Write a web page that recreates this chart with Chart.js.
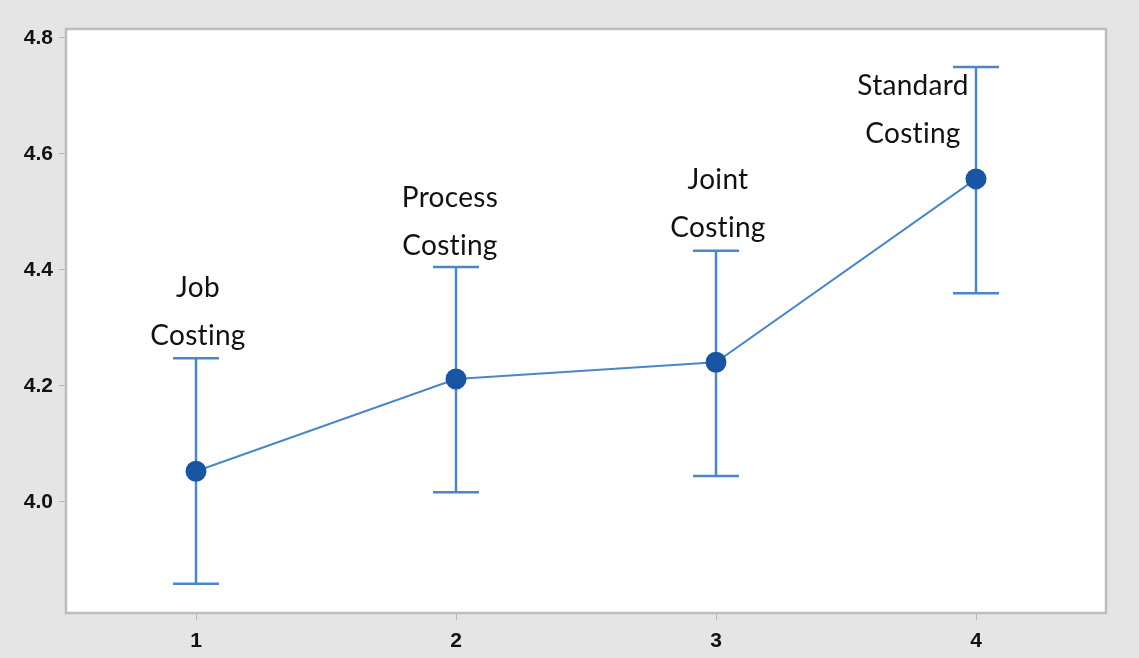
<!DOCTYPE html>
<html>
<head>
<meta charset="utf-8">
<script src="https://cdn.jsdelivr.net/npm/chart.js@4.4.1/dist/chart.umd.min.js"></script>
<style>
    html, body { margin: 0; padding: 0; background: #e5e5e5; }
    #wrap { width: 1139px; height: 658px; position: relative; }
</style>
</head>
<body>
<div id="wrap"><canvas id="meansChart"></canvas></div>
<script>
// Data
const categories = ['Job Costing', 'Process Costing', 'Joint Costing', 'Standard Costing'];
const xValues = [1, 2, 3, 4];
const means = [4.053, 4.212, 4.241, 4.557];
const upperBounds = [4.248, 4.405, 4.433, 4.750];
const lowerBounds = [3.859, 4.017, 4.045, 4.360];
const yTicks = [4.0, 4.2, 4.4, 4.6, 4.8];

const lineBlue = '#4a87c9';
const dotBlue = '#1a55a3';

// white plot area + grey frame
const plotFrame = {
    id: 'plotFrame',
    beforeDraw(chart) {
        const { ctx, chartArea: a } = chart;
        ctx.save();
        ctx.fillStyle = '#ffffff';
        ctx.fillRect(a.left, a.top, a.right - a.left, a.bottom - a.top);
        ctx.restore();
    },
    afterDraw(chart) {
        const { ctx, chartArea: a } = chart;
        ctx.save();
        ctx.strokeStyle = '#bdbdbd';
        ctx.lineWidth = 2.5;
        ctx.strokeRect(a.left, a.top, a.right - a.left, a.bottom - a.top);
        ctx.restore();
    }
};

// error bars and category labels
const errorBars = {
    id: 'errorBars',
    beforeDatasetsDraw(chart) {
        const { ctx, scales: { x, y } } = chart;
        ctx.save();
        ctx.strokeStyle = lineBlue;
        ctx.lineWidth = 2.5;
        xValues.forEach((v, i) => {
            const px = x.getPixelForValue(v);
            const top = y.getPixelForValue(upperBounds[i]);
            const bot = y.getPixelForValue(lowerBounds[i]);
            ctx.beginPath();
            ctx.moveTo(px, top); ctx.lineTo(px, bot);
            ctx.moveTo(px - 23, top); ctx.lineTo(px + 23, top);
            ctx.moveTo(px - 23, bot); ctx.lineTo(px + 23, bot);
            ctx.stroke();
        });

        // labels above the bars (last one sits to the left of its bar)
        ctx.fillStyle = '#111';
        ctx.font = '28px Lato, "Open Sans", sans-serif';
        ctx.letterSpacing = '0.3px';
        ctx.textAlign = 'center';
        ctx.textBaseline = 'middle';
        const shifts = [[2, -22], [-6, -21], [2, -23], [-63, 67]];
        categories.forEach((name, i) => {
            const words = name.split(' ');
            const cx = x.getPixelForValue(xValues[i]) + shifts[i][0];
            const by = y.getPixelForValue(upperBounds[i]) + shifts[i][1];
            ctx.fillText(words[0], cx, by - 48);
            ctx.fillText(words[1], cx, by);
        });
        ctx.restore();
    }
};

new Chart(document.getElementById('meansChart'), {
    type: 'line',
    data: {
        datasets: [{
            label: 'Mean',
            data: xValues.map((v, i) => ({ x: v, y: means[i] })),
            borderColor: lineBlue,
            borderWidth: 2,
            backgroundColor: dotBlue,
            pointBackgroundColor: dotBlue,
            pointBorderColor: dotBlue,
            pointRadius: 9.5,
            pointHoverRadius: 9.5,
            tension: 0
        }]
    },
    options: {
        responsive: true,
        maintainAspectRatio: false,
        animation: false,
        layout: { padding: { top: 29, right: 33, left: 0, bottom: 0 } },
        plugins: {
            legend: { display: false },
            tooltip: { enabled: false }
        },
        scales: {
            x: {
                type: 'linear',
                min: 0.5,
                max: 4.5,
                afterBuildTicks(scale) { scale.ticks = xValues.map(v => ({ value: v })); },
                afterFit(scale) { scale.height = 45; },
                grid: { drawOnChartArea: false, drawTicks: true, tickLength: 7, color: '#b5b5b5' },
                border: { display: false },
                ticks: {
                    color: '#111',
                    padding: 9,
                    font: { family: '"Liberation Sans", Arial, sans-serif', size: 21, weight: 'bold' }
                }
            },
            y: {
                min: 3.8086,
                max: 4.8155,
                afterBuildTicks(scale) { scale.ticks = yTicks.map(v => ({ value: v })); },
                afterFit(scale) { scale.width = 66; },
                grid: { drawOnChartArea: false, drawTicks: true, tickLength: 7, color: '#b5b5b5' },
                border: { display: false },
                ticks: {
                    color: '#111',
                    padding: 6,
                    callback: v => v.toFixed(1),
                    font: { family: '"Liberation Sans", Arial, sans-serif', size: 21, weight: 'bold' }
                }
            }
        }
    },
    plugins: [plotFrame, errorBars]
});
</script>
</body>
</html>
